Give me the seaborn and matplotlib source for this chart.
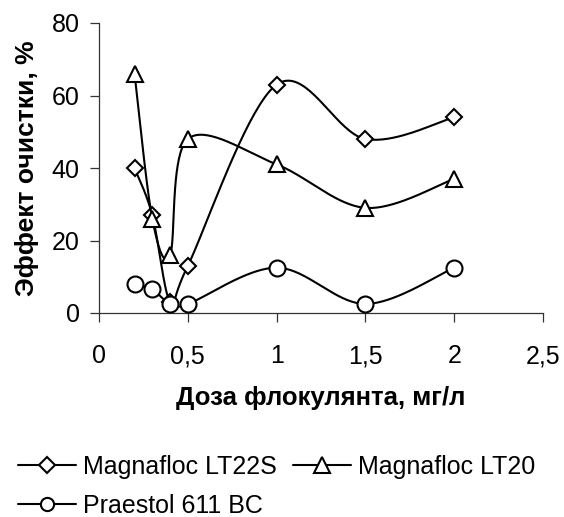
import numpy as np
import pandas as pd
import matplotlib
matplotlib.use("Agg")
import matplotlib.pyplot as plt
from matplotlib.lines import Line2D
import seaborn as sns

# ---- data ----
dose = [0.2, 0.3, 0.4, 0.5, 1.0, 1.5, 2.0]
lt22s = [40, 27, 3, 13, 63, 48, 54]
lt20 = [66, 26, 16, 48, 41, 29, 37]
praestol = [8, 6.5, 2.5, 2.5, 12.5, 2.5, 12.5]
series_names = ["Magnafloc LT22S", "Magnafloc LT20", "Praestol 611 BC"]
x_ticks = [0, 0.5, 1, 1.5, 2, 2.5]
x_tick_labels = ["0", "0,5", "1", "1,5", "2", "2,5"]
y_ticks = [0, 20, 40, 60, 80]
x_label = "Доза флокулянта, мг/л"
y_label = "Эффект очистки, %"

sns.set_theme(style="ticks")
plt.rcParams["font.family"] = ["Liberation Sans", "DejaVu Sans"]
plt.rcParams["text.color"] = "black"
plt.rcParams["axes.labelcolor"] = "black"


def smooth_curve(x, y, n=40):
    """Excel-style smoothed line (cubic Bezier through the data points)."""
    pts = np.column_stack([x, y]).astype(float)
    xs, ys = [], []
    for i in range(len(pts) - 1):
        p0 = pts[i - 1] if i > 0 else pts[i]
        p1, p2 = pts[i], pts[i + 1]
        p3 = pts[i + 2] if i + 2 < len(pts) else pts[i + 1]
        c1 = p1 + (p2 - p0) / 6.0
        c2 = p2 - (p3 - p1) / 6.0
        t = np.linspace(0, 1, n)[:, None]
        b = ((1 - t) ** 3) * p1 + 3 * ((1 - t) ** 2) * t * c1 + 3 * (1 - t) * t ** 2 * c2 + t ** 3 * p2
        xs.extend(b[:, 0]); ys.extend(b[:, 1])
    return np.array(xs), np.array(ys)


fig = plt.figure(figsize=(5.64, 5.17), dpi=100)
ax = fig.add_axes([99 / 564, 1 - 313 / 517, 444 / 564, 290 / 517])

markers = ["D", "^", "o"]
msizes = [8.5, 12, 11.5]
leg_sizes = [8.5, 11.5, 9.5]
lw = 1.5
for k, (vals, name) in enumerate(zip([lt22s, lt20, praestol], series_names)):
    sx, sy = smooth_curve(dose, vals)
    df = pd.DataFrame({"x": sx, "y": sy})
    sns.lineplot(data=df, x="x", y="y", sort=False, estimator=None,
                 color="black", lw=lw, ax=ax, zorder=3 + 2 * k)
    ax.plot(dose, vals, linestyle="none", marker=markers[k], ms=msizes[k],
            mfc="white", mec="black", mew=lw, zorder=4 + 2 * k, clip_on=False)

ax.set_xlim(0, 2.5)
ax.set_ylim(0, 80)
ax.set_xticks(x_ticks)
ax.set_xticklabels(x_tick_labels)
ax.set_yticks(y_ticks)
ax.set_xlabel(x_label, fontsize=18.5, fontweight="bold", labelpad=13, color="black")
ax.set_ylabel(y_label, fontsize=19, fontweight="bold", labelpad=9, color="black")
ax.tick_params(axis="both", direction="out", length=6.5, width=0.9, colors="#333333",
               labelsize=18, labelcolor="black")
ax.tick_params(axis="x", pad=16)
ax.tick_params(axis="y", pad=7.5)
for s in ["top", "right"]:
    ax.spines[s].set_visible(False)
for s in ["left", "bottom"]:
    ax.spines[s].set_color("#333333")
    ax.spines[s].set_linewidth(0.9)

handles = []
for k in range(3):
    handles.append(Line2D([], [], color="black", lw=lw, marker=markers[k], ms=leg_sizes[k],
                          mfc="white", mec="black", mew=lw))
order = [0, 2, 1]
leg = fig.legend([handles[i] for i in order], [series_names[i] for i in order],
                 ncol=2, loc="upper left", bbox_to_anchor=(18 / 564, 1 - 455 / 517),
                 frameon=False, fontsize=18, handlelength=2.32, handletextpad=0.28,
                 columnspacing=0.64, labelspacing=0.6, borderpad=0, borderaxespad=0)
for t in leg.get_texts():
    t.set_color("black")

fig.savefig("out.png", dpi=100)
